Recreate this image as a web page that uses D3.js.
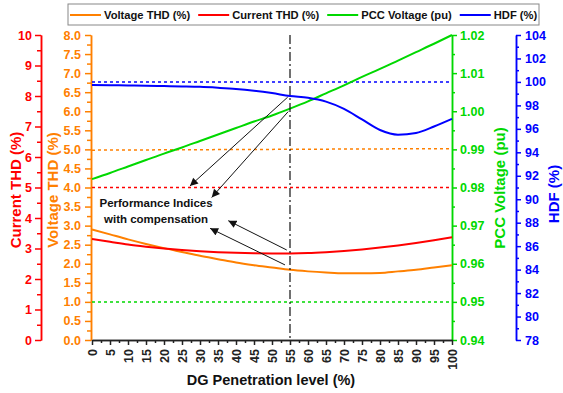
<!DOCTYPE html>
<html lang="en">
<head>
<meta charset="UTF-8">
<title>DG penetration – performance indices</title>
<style>
  html, body { margin: 0; padding: 0; background: #fff; overflow: hidden; }
  svg { display: block; font-family: 'Liberation Sans', Arial, sans-serif; font-weight: bold; }
  .axis text { font-size: 12.5px; font-weight: bold; }
</style>
</head>
<body>
<svg width="563" height="393"></svg>
<script src="https://d3js.org/d3.v7.min.js"></script>
<script>
// ---- data ----
const penetration = [0, 5, 10, 15, 20, 25, 30, 35, 40, 45, 50, 55, 60, 65, 70, 75, 80, 85, 90, 95, 100];
const voltageTHD  = [2.90, 2.77, 2.64, 2.52, 2.41, 2.31, 2.21, 2.12, 2.03, 1.96, 1.90, 1.84, 1.80, 1.77, 1.75, 1.75, 1.76, 1.80, 1.84, 1.90, 1.96];
const currentTHD  = [3.31, 3.22, 3.13, 3.06, 3.00, 2.95, 2.91, 2.88, 2.86, 2.845, 2.84, 2.84, 2.85, 2.88, 2.92, 2.97, 3.03, 3.10, 3.18, 3.27, 3.37];
const pccVoltage  = [0.9822, 0.9838, 0.9855, 0.9872, 0.9889, 0.9905, 0.9922, 0.9939, 0.9956, 0.9973, 0.9989, 1.0007, 1.0026, 1.0047, 1.0068, 1.0090, 1.0111, 1.0133, 1.0155, 1.0177, 1.0200];
const hdf         = [99.74, 99.72, 99.70, 99.68, 99.65, 99.62, 99.58, 99.50, 99.40, 99.25, 99.05, 98.80, 98.65, 98.32, 97.70, 96.80, 95.90, 95.50, 95.65, 96.20, 96.85];

// reference levels (dashed) – without compensation
const refX          = [0, 100];
const voltageTHDRef = [4.98, 5.02];
const currentTHDRef = [5.0, 5.0];
const pccVoltageRef = [0.95, 0.95];
const hdfRef        = [100, 100];

const markerX = 55;
const seriesNames = ["Voltage THD (%)", "Current THD (%)", "PCC Voltage (pu)", "HDF (%)"];
const colors = { v: "#ff8000", i: "#ff0000", p: "#00d800", h: "#0000ff" };

// annotation, in (penetration %, voltage THD) units
const noteLines = ["Performance Indices", "with compensation"];
const arrows = [
  { from: [54.36, 6.37], to: [27.2, 4.04] },
  { from: [54.5, 5.99],  to: [33.25, 3.74] },
  { from: [54.1, 2.36],  to: [37.86, 3.13] },
  { from: [53.6, 1.97],  to: [32.8, 2.93] }
];

// ---- layout ----
const svg = d3.select("svg");
const pLeft = 92, pRight = 452, pTop = 35, pBottom = 340;

const x  = d3.scaleLinear().domain([0, 100]).range([pLeft, pRight]);
const yV = d3.scaleLinear().domain([0, 8]).range([pBottom, pTop]);
const yI = d3.scaleLinear().domain([0, 10]).range([pBottom, pTop]);
const yP = d3.scaleLinear().domain([0.94, 1.02]).range([pBottom, pTop]);
const yH = d3.scaleLinear().domain([78, 104]).range([pBottom, pTop]);

const step = (a, b, s) => d3.range(Math.round((b - a) / s) + 1).map(k => +(a + k * s).toFixed(4));
const minor = (a, b, s) => d3.range(Math.round((b - a) / s)).map(k => +(a + s / 2 + k * s).toFixed(4));

function drawAxis(axisFn, scale, pos, color, major, minors, fmt, size, pad) {
  const g = svg.append("g").attr("class", "axis").attr("transform", pos);
  g.append("g").call(axisFn(scale).tickValues(minors).tickSize(size - 2).tickSizeOuter(0).tickFormat(""));
  g.append("g").call(axisFn(scale).tickValues(major).tickSize(size).tickSizeOuter(0).tickPadding(pad).tickFormat(fmt));
  g.selectAll("path, line").attr("stroke", color).attr("stroke-width", 1.5);
  g.selectAll("text").attr("fill", color);
  return g;
}

// left axes
drawAxis(d3.axisLeft, yI, "translate(41,0)", colors.i, step(0, 10, 1), minor(0, 10, 1), d3.format("d"), 6, 3);
drawAxis(d3.axisLeft, yV, "translate(91,0)", colors.v, step(0, 8, 0.5), minor(0, 8, 0.5), d3.format(".1f"), 6, 4);
// right axes
drawAxis(d3.axisRight, yP, "translate(452,0)", colors.p, step(0.94, 1.02, 0.01), minor(0.94, 1.02, 0.01), d3.format(".2f"), 5, 3);
drawAxis(d3.axisRight, yH, "translate(516,0)", colors.h, step(78, 104, 2), minor(78, 104, 2), d3.format("d"), 5, 4);

// bottom axis
const gx = drawAxis(d3.axisBottom, x, `translate(0,${pBottom})`, "#222", step(0, 100, 5), minor(0, 100, 5), d3.format("d"), 5, 4);
gx.selectAll(".tick text")
  .attr("transform", "rotate(-90)")
  .attr("x", -9).attr("y", 0).attr("dy", "0.35em")
  .style("text-anchor", "end");

// axis titles
function vTitle(text, cx, cy, color) {
  svg.append("text").attr("transform", `translate(${cx},${cy}) rotate(-90)`)
    .attr("text-anchor", "middle").attr("fill", color).attr("font-size", 15).text(text);
}
vTitle("Current THD (%)", 21, 190, colors.i);
vTitle("Voltage THD (%)", 58, 190, colors.v);
vTitle("PCC Voltage (pu)", 505, 188, colors.p);
vTitle("HDF (%)", 559, 194, colors.h);
svg.append("text").attr("x", 271).attr("y", 385).attr("text-anchor", "middle")
  .attr("font-size", 14.5).attr("fill", "#111").text("DG Penetration level (%)");

// dashed reference lines
const plotLine = (xs, ys, yScale) => d3.line().x((d, i) => x(xs[i])).y(d => yScale(d)).curve(d3.curveMonotoneX)(ys);
[[voltageTHDRef, yV, colors.v], [currentTHDRef, yI, colors.i], [pccVoltageRef, yP, colors.p], [hdfRef, yH, colors.h]]
  .forEach(([vals, sc, c]) => {
    svg.append("path").attr("d", plotLine(refX, vals, sc)).attr("fill", "none")
      .attr("stroke", c).attr("stroke-width", 1.5).attr("stroke-dasharray", "3,3");
  });

// solid curves
[[voltageTHD, yV, colors.v], [currentTHD, yI, colors.i], [pccVoltage, yP, colors.p], [hdf, yH, colors.h]]
  .forEach(([vals, sc, c]) => {
    svg.append("path").attr("d", plotLine(penetration, vals, sc)).attr("fill", "none")
      .attr("stroke", c).attr("stroke-width", 2);
  });

// vertical dash-dot marker
svg.append("line")
  .attr("x1", x(markerX)).attr("x2", x(markerX))
  .attr("y1", yV.range()[1]).attr("y2", yV.range()[0])
  .attr("stroke", "#111").attr("stroke-width", 1.2).attr("stroke-dasharray", "9,3,2,3");

// annotation
svg.append("defs").append("marker")
  .attr("id", "arrow").attr("viewBox", "0 0 10 10").attr("refX", 10).attr("refY", 5)
  .attr("markerWidth", 9).attr("markerHeight", 8).attr("markerUnits", "userSpaceOnUse")
  .attr("orient", "auto")
  .append("path").attr("d", "M0,0 L10,5 L0,10 Z").attr("fill", "#111");

arrows.forEach(a => {
  svg.append("line")
    .attr("x1", x(a.from[0])).attr("y1", yV(a.from[1]))
    .attr("x2", x(a.to[0])).attr("y2", yV(a.to[1]))
    .attr("stroke", "#111").attr("stroke-width", 1).attr("marker-end", "url(#arrow)");
});
noteLines.forEach((t, i) => {
  svg.append("text").attr("x", x(17.8)).attr("y", yV(3.5) + i * 16.5)
    .attr("text-anchor", "middle").attr("font-size", 11.5).attr("fill", "#111").text(t);
});

// legend
const leg = svg.append("g");
leg.append("rect").attr("x", 68).attr("y", 4).attr("width", 471).attr("height", 21)
  .attr("fill", "#fff").attr("stroke", "#888").attr("stroke-width", 1);
let lx = 70;
const legColors = [colors.v, colors.i, colors.p, colors.h];
seriesNames.forEach((name, i) => {
  leg.append("line").attr("x1", lx).attr("x2", lx + 31).attr("y1", 15).attr("y2", 15)
    .attr("stroke", legColors[i]).attr("stroke-width", 2);
  const t = leg.append("text").attr("x", lx + 34).attr("y", 19).attr("font-size", 11.2)
    .attr("fill", "#111").text(name);
  lx += 34 + t.node().getComputedTextLength() + 8;
});
</script>
</body>
</html>
